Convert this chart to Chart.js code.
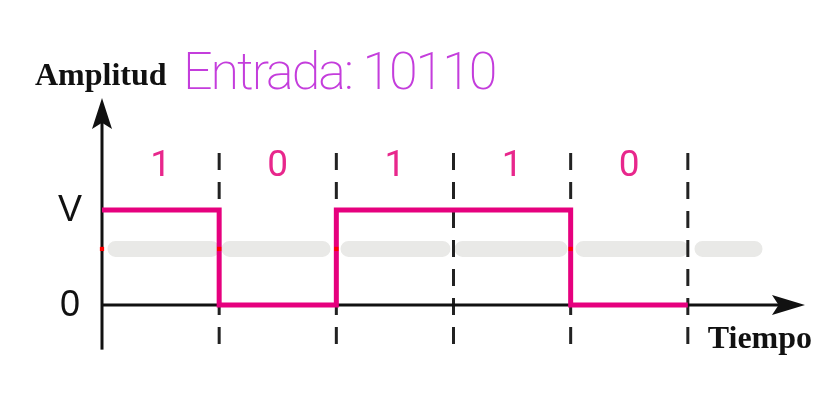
<!DOCTYPE html>
<html>
<head>
<meta charset="utf-8">
<script src="https://cdn.jsdelivr.net/npm/chart.js@4.4.1/dist/chart.umd.min.js"></script>
<style>
    html,body{margin:0;background:#fff;}
    canvas{display:block;}
</style>
</head>
<body>
<canvas id="senal" width="824" height="411"></canvas>
<script>
// Datos de la señal
const bits = [1, 0, 1, 1, 0];
const bitLabels = ['1', '0', '1', '1', '0'];
const boundaries = [1, 2, 3, 4, 5];
const levelTicks = [1, 0];
const levelLabels = ['V', '0'];
const entrada = 'Entrada: 10110';
// trazos grises (borrones) entre divisiones: [inicio, fin]
const smudgeStarts = [0.115, 1.088, 2.104, 3.077, 4.109, 5.125];
const smudgeEnds   = [0.935, 1.882, 2.906, 3.905, 4.937, 5.569];
const smudgeLevel = 0.59;
const redDots = [0, 1, 2, 4];

const PINK = '#e6007e';
const INK = '#111';

// puntos de la señal (escalón al final de cada bit)
const signalData = bits.map((b, i) => ({x: i, y: b}));
signalData.push({x: bits.length, y: bits[bits.length - 1]});

// líneas discontinuas
const dashData = [];
boundaries.forEach(b => {
    dashData.push({x: b, y: 1.6}, {x: b, y: -0.44}, {x: b, y: null});
});

// borrones
const smudgeData = [];
smudgeStarts.forEach((s, i) => {
    smudgeData.push({x: s, y: smudgeLevel}, {x: smudgeEnds[i], y: smudgeLevel}, {x: s, y: null});
});

function arrowHead(ctx, tx, ty, dx, dy, len, half){
    // punta tipo "stealth"
    const px = -dy, py = dx;
    ctx.beginPath();
    ctx.moveTo(tx, ty);
    ctx.lineTo(tx - dx*len + px*half, ty - dy*len + py*half);
    ctx.lineTo(tx - dx*len*0.8, ty - dy*len*0.8);
    ctx.lineTo(tx - dx*len - px*half, ty - dy*len - py*half);
    ctx.closePath();
    ctx.fill();
}

const decorations = {
    id: 'decorations',
    afterDatasetsDraw(chart){
        const ctx = chart.ctx;
        const xs = chart.scales.x, ys = chart.scales.y;
        const x0 = xs.getPixelForValue(0), y0 = ys.getPixelForValue(0);
        ctx.save();
        ctx.fillStyle = INK;
        arrowHead(ctx, xs.getPixelForValue(6), y0, 1, 0, 33, 10);
        arrowHead(ctx, x0, ys.getPixelForValue(2.18), 0, -1, 31, 10);

        // bits
        ctx.fillStyle = '#e8278c';
        ctx.font = '37px Roboto';
        ctx.textAlign = 'center';
        ctx.textBaseline = 'middle';
        bitLabels.forEach((t, i) => {
            ctx.fillText(t, xs.getPixelForValue(i + 0.5), ys.getPixelForValue(1.45));
        });

        // niveles
        ctx.fillStyle = INK;
        ctx.font = '36px "Liberation Sans"';
        levelLabels.forEach((t, i) => {
            ctx.fillText(t, x0 - 32, ys.getPixelForValue(levelTicks[i]) + 1);
        });

        // títulos de ejes
        ctx.textAlign = 'left';
        ctx.textBaseline = 'alphabetic';
        ctx.font = 'bold 32px "Liberation Serif"';
        ctx.fillText('Amplitud', x0 - 67, 85);
        ctx.fillText('Tiempo', xs.getPixelForValue(5.17), 348);

        // anotación a mano
        ctx.fillStyle = '#c43ddc';
        ctx.font = '200 52px Roboto';
        ctx.letterSpacing = '-2px';
        ctx.fillText(entrada, 183, 89);
        ctx.restore();
    }
};

new Chart(document.getElementById('senal'), {
    type: 'line',
    data: {
        datasets: [
            {label: 'borrones', data: smudgeData, borderColor: '#e9e9e7', borderWidth: 16,
             borderCapStyle: 'round', pointRadius: 0, spanGaps: false, order: 6, clip: false},
            {label: 'divisiones', data: dashData, borderColor: '#222', borderWidth: 3,
             borderDash: [17, 12], pointRadius: 0, spanGaps: false, order: 5, clip: false},
            {label: 'eje x', data: [{x: 0, y: 0}, {x: 5.8, y: 0}], borderColor: INK, borderWidth: 3,
             pointRadius: 0, order: 4, clip: false},
            {label: 'eje y', data: [{x: 0, y: -0.47}, {x: 0, y: 1.95}], borderColor: INK, borderWidth: 3,
             pointRadius: 0, order: 4, clip: false},
            {label: 'señal', data: signalData, borderColor: PINK, borderWidth: 5, stepped: 'before',
             pointRadius: 0, borderJoinStyle: 'miter', order: 2, clip: false},
            {label: 'marcas', data: redDots.map(v => ({x: v, y: smudgeLevel})), showLine: false,
             pointStyle: 'rect', pointRadius: 3, pointBackgroundColor: '#ff0000', pointBorderWidth: 0,
             order: 1, clip: false}
        ]
    },
    options: {
        responsive: false,
        animation: false,
        layout: {padding: {left: 102, right: 19, top: 100, bottom: 61}},
        plugins: {legend: {display: false}, tooltip: {enabled: false}},
        scales: {
            x: {type: 'linear', min: 0, max: 6, display: false},
            y: {type: 'linear', min: -0.474, max: 2.158, display: false}
        }
    },
    plugins: [decorations]
});
</script>
</body>
</html>
